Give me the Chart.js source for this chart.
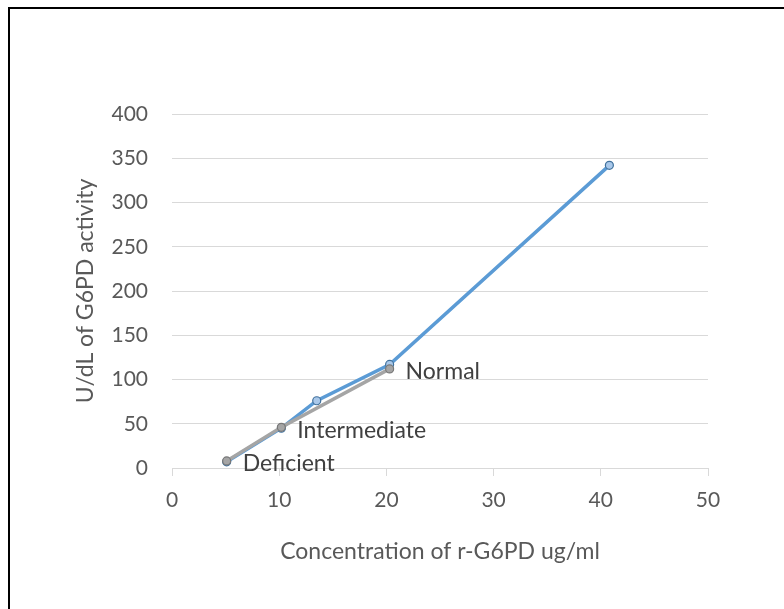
<!DOCTYPE html>
<html>
<head>
<meta charset="utf-8">
<script src="https://cdn.jsdelivr.net/npm/chart.js@4/dist/chart.umd.min.js"></script>
<style>
  html, body { margin: 0; padding: 0; background: #fff; }
  #wrap { position: relative; width: 784px; height: 609px; overflow: hidden; }
  #frame { position: absolute; left: 8px; top: 7px; width: 800px; height: 700px;
           border-top: 2px solid #000; border-left: 2px solid #000; box-sizing: border-box; }
  canvas { position: absolute; left: 0; top: 0; }
</style>
</head>
<body>
<div id="wrap">
  <div id="frame"></div>
  <canvas id="c" width="784" height="609"></canvas>
</div>
<script>
// ---- data ----
const blueX = [5.1, 10.2, 13.5, 20.3, 40.8];
const blueY = [7, 45, 76, 117, 342];
const grayX = [5.1, 10.2, 20.3];
const grayY = [8, 46, 112];
const grayLabels = ['Deficient', 'Intermediate', 'Normal'];
const xTicks = [0, 10, 20, 30, 40, 50];
const yTicks = [0, 50, 100, 150, 200, 250, 300, 350, 400];
const xTitle = 'Concentration of r-G6PD ug/ml';
const yTitle = 'U/dL of G6PD activity';

const FONT = 'Lato';
const toPts = (xs, ys) => xs.map((x, i) => ({ x: x, y: ys[i] }));

const labelPlugin = {
  id: 'pointLabels',
  afterDatasetsDraw(chart) {
    const ctx = chart.ctx;
    const meta = chart.getDatasetMeta(1);
    ctx.save();
    ctx.font = '23px ' + FONT;
    ctx.fillStyle = '#404040';
    ctx.textAlign = 'left';
    ctx.textBaseline = 'middle';
    meta.data.forEach((pt, i) => {
      ctx.fillText(grayLabels[i], pt.x + 16, pt.y + 3);
    });
    ctx.restore();
  }
};

new Chart(document.getElementById('c'), {
  type: 'scatter',
  data: {
    datasets: [
      {
        data: toPts(blueX, blueY),
        showLine: true,
        borderColor: '#5b9bd5',
        borderWidth: 3.5,
        pointRadius: 4,
        pointBorderWidth: 1.2,
        pointBackgroundColor: '#a9c8ea',
        pointBorderColor: '#41719c',
        order: 2
      },
      {
        data: toPts(grayX, grayY),
        showLine: true,
        borderColor: '#a5a5a5',
        borderWidth: 3.5,
        pointRadius: 4,
        pointBorderWidth: 1.2,
        pointBackgroundColor: '#a5a5a5',
        pointBorderColor: '#787878',
        order: 1
      }
    ]
  },
  options: {
    responsive: false,
    animation: false,
    devicePixelRatio: 1,
    layout: { padding: { left: 0, right: 76, top: 114, bottom: 0 } },
    plugins: { legend: { display: false }, tooltip: { enabled: false } },
    scales: {
      x: {
        type: 'linear',
        min: xTicks[0], max: xTicks[xTicks.length - 1],
        afterFit(s) { s.height = 141; },
        afterBuildTicks(s) { s.ticks = xTicks.map(v => ({ value: v })); },
        grid: { drawOnChartArea: false, drawTicks: true, tickLength: 8, color: '#d9d9d9' },
        border: { display: true, color: '#d9d9d9', width: 1 },
        ticks: { color: '#595959', font: { family: FONT, size: 21 }, padding: 12 },
        title: { display: true, text: xTitle, color: '#595959',
                 font: { family: FONT, size: 23 }, padding: { top: 0, bottom: 44 } }
      },
      y: {
        type: 'linear',
        min: yTicks[0], max: yTicks[yTicks.length - 1],
        afterFit(s) { s.width = 172; },
        afterBuildTicks(s) { s.ticks = yTicks.map(v => ({ value: v })); },
        grid: { drawTicks: false, color: '#d9d9d9', lineWidth: 1 },
        border: { display: false },
        ticks: { color: '#595959', font: { family: FONT, size: 21 }, padding: 24 },
        title: { display: true, text: yTitle, color: '#595959',
                 font: { family: FONT, size: 23 }, padding: { top: 72, bottom: 0 } }
      }
    }
  },
  plugins: [labelPlugin]
});
</script>
</body>
</html>
